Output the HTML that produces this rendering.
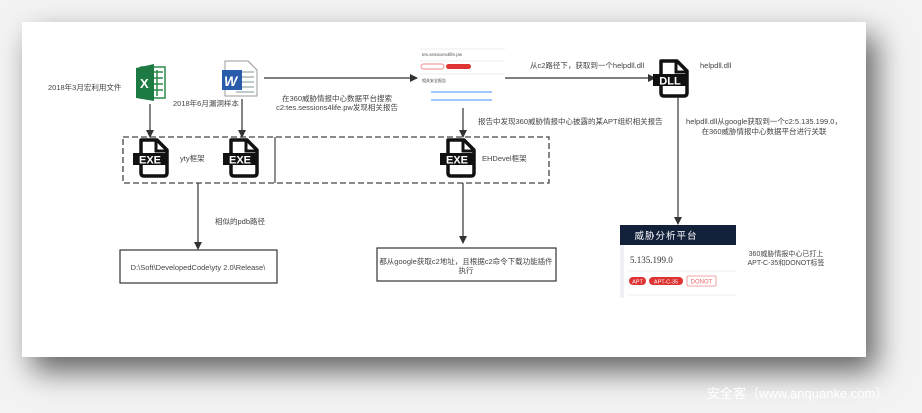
<!DOCTYPE html>
<html><head><meta charset="utf-8"><style>
html,body{margin:0;padding:0;width:922px;height:413px;overflow:hidden;background:#f3f3f3;}
.cv{position:absolute;left:22px;top:22px;width:844px;height:335px;background:#fff;box-shadow:10px 14px 28px rgba(0,0,0,.6);}
svg{position:absolute;left:0;top:0;}
text{font-family:"Liberation Sans","Noto Sans CJK SC",sans-serif;fill:#444;font-size:7.5px;}
</style></head><body>
<div class="cv"></div>
<svg width="922" height="413" viewBox="0 0 922 413">
<defs>
<marker id="a" markerWidth="8" markerHeight="8" refX="7" refY="4" orient="auto" markerUnits="userSpaceOnUse"><path d="M0,0 L8,4 L0,8z" fill="#333"/></marker>
<g id="exe">
<path d="M4,0 H20 L30,10 V33 Q30,36 27,36 H7 Q4,36 4,33 Z" fill="none" stroke="#111" stroke-width="3.5" stroke-linejoin="round"/>
<path d="M19,0 V11 H30" fill="none" stroke="#111" stroke-width="3"/>
<rect x="-4" y="13" width="34" height="12" fill="#111"/>
</g>
</defs>
<rect x="141" y="67" width="24" height="31" fill="#fff" stroke="#2b8a4c" stroke-width="1.5"/>
<path d="M152,72 H163 M152,78 H163 M152,84 H163 M152,90 H163 M157,70 V96" stroke="#2b8a4c" stroke-width="1.5"/>
<path d="M136,68 L154,64 V101 L136,98 Z" fill="#1e7a43"/>
<text x="140" y="88" style="fill:#fff;font-size:13px;font-weight:bold">X</text>
<path d="M225,61 H248 L257,70 V96 H225 Z" fill="#fff" stroke="#999" stroke-width="1"/>
<path d="M236,72 H254 M236,77 H254 M236,82 H254 M236,87 H254 M236,92 H254" stroke="#9aa" stroke-width="1.2"/>
<rect x="222" y="70" width="20" height="20" fill="#2a5cab"/>
<text x="224" y="86" style="fill:#fff;font-size:14px;font-weight:bold;font-style:italic">W</text>
<text x="48" y="90">2018年3月宏利用文件</text>
<text x="173" y="106">2018年6月漏洞样本</text>
<line x1="264" y1="78" x2="417" y2="78" stroke="#333" stroke-width="1.2" marker-end="url(#a)"/>
<text x="337" y="101" text-anchor="middle">在360威胁情报中心数据平台搜索</text>
<text x="337" y="110" text-anchor="middle">c2:tes.sessions4life.pw发现相关报告</text>
<rect x="420" y="48" width="85" height="58" fill="#fff"/>
<line x1="420" y1="49" x2="505" y2="49" stroke="#eee"/>
<text x="422" y="56" style="font-size:4.5px;fill:#555">tes.sessions4life.pw</text>
<line x1="420" y1="61" x2="505" y2="61" stroke="#eee"/>
<rect x="421" y="64" width="23" height="5" rx="2.5" fill="#fff" stroke="#e88"/>
<rect x="446" y="64" width="25" height="5" rx="2.5" fill="#d33"/>
<line x1="420" y1="74" x2="505" y2="74" stroke="#eee"/>
<text x="422" y="82" style="font-size:4px">相关安全报告</text>
<line x1="431" y1="92" x2="492" y2="92" stroke="#6af" stroke-width="1.3"/>
<line x1="431" y1="100" x2="492" y2="100" stroke="#6af" stroke-width="1.3"/>
<line x1="463" y1="108" x2="463" y2="137" stroke="#333" stroke-width="1.2" marker-end="url(#a)"/>
<line x1="505" y1="78" x2="655" y2="78" stroke="#333" stroke-width="1.2" marker-end="url(#a)"/>
<text x="530" y="68">从c2路径下，获取到一个helpdll.dll</text>
<g transform="translate(657,61)">
<path d="M4,0 H20 L30,10 V32 Q30,35 27,35 H7 Q4,35 4,32 Z" fill="none" stroke="#111" stroke-width="3.5" stroke-linejoin="round"/>
<path d="M19,0 V11 H30" fill="none" stroke="#111" stroke-width="3"/>
<rect x="-4" y="13" width="34" height="12" fill="#111"/>
<text x="13" y="23.5" text-anchor="middle" style="fill:#fff;font-size:11px;font-weight:bold">DLL</text>
</g>
<text x="700" y="68">helpdll.dll</text>
<line x1="678" y1="97" x2="678" y2="224" stroke="#333" stroke-width="1.2" marker-end="url(#a)"/>
<text x="764" y="124" text-anchor="middle">helpdll.dll从google获取到一个c2:5.135.199.0，</text>
<text x="764" y="134" text-anchor="middle">在360威胁情报中心数据平台进行关联</text>
<text x="478" y="124">报告中发现360威胁情报中心披露的某APT组织相关报告</text>
<rect x="123" y="137" width="426" height="46" fill="none" stroke="#444" stroke-width="1.3" stroke-dasharray="6,3"/>
<line x1="275" y1="137" x2="275" y2="183" stroke="#444" stroke-width="1.2"/>
<line x1="150" y1="104" x2="150" y2="137" stroke="#333" stroke-width="1.2" marker-end="url(#a)"/>
<line x1="242" y1="99" x2="242" y2="137" stroke="#333" stroke-width="1.2" marker-end="url(#a)"/>
<g transform="translate(137,140)"><use href="#exe"/><text x="13" y="23.5" text-anchor="middle" style="fill:#fff;font-size:11px;font-weight:bold">EXE</text></g>
<g transform="translate(227,140)"><use href="#exe"/><text x="13" y="23.5" text-anchor="middle" style="fill:#fff;font-size:11px;font-weight:bold">EXE</text></g>
<g transform="translate(444,140)"><use href="#exe"/><text x="13" y="23.5" text-anchor="middle" style="fill:#fff;font-size:11px;font-weight:bold">EXE</text></g>
<text x="180" y="161">yty框架</text>
<text x="482" y="161">EHDevel框架</text>
<line x1="198" y1="183" x2="198" y2="249" stroke="#333" stroke-width="1.2" marker-end="url(#a)"/>
<text x="215" y="224">相似的pdb路径</text>
<rect x="120" y="250" width="157" height="33" fill="#fff" stroke="#333" stroke-width="1.2"/>
<text x="198" y="270" text-anchor="middle">D:\Soft\DevelopedCode\yty 2.0\Release\</text>
<line x1="463" y1="183" x2="463" y2="243" stroke="#333" stroke-width="1.2" marker-end="url(#a)"/>
<rect x="377" y="248" width="179" height="33" fill="#fff" stroke="#333" stroke-width="1.2"/>
<text x="466" y="264" text-anchor="middle">都从google获取c2地址，且根据c2命令下载功能插件</text>
<text x="466" y="273" text-anchor="middle">执行</text>
<rect x="620" y="225" width="116" height="20" fill="#13203a"/>
<text x="666" y="239" text-anchor="middle" style="fill:#fff;font-size:9.5px;letter-spacing:1px">威胁分析平台</text>
<rect x="620" y="245" width="4" height="53" fill="#eef0f5"/>
<text x="630" y="263" style="font-size:9px;fill:#333;font-family:'Liberation Serif',serif">5.135.199.0</text>
<line x1="628" y1="271" x2="736" y2="271" stroke="#eee"/>
<rect x="629" y="277" width="17" height="8" rx="4" fill="#d33"/>
<text x="637.5" y="283.5" text-anchor="middle" style="fill:#fff;font-size:5.5px">APT</text>
<rect x="649" y="277" width="34" height="8" rx="4" fill="#d33"/>
<text x="666" y="283.5" text-anchor="middle" style="fill:#fff;font-size:5.5px">APT-C-35</text>
<rect x="687" y="276" width="29" height="10" rx="1" fill="#fff" stroke="#e88" stroke-width=".8"/>
<text x="701.5" y="283.5" text-anchor="middle" style="fill:#e66;font-size:6px">DONOT</text>
<line x1="628" y1="295" x2="736" y2="295" stroke="#eee"/>
<text x="786" y="256" text-anchor="middle" style="font-size:7px">360威胁情报中心已打上</text>
<text x="786" y="265" text-anchor="middle" style="font-size:7px">APT-C-35和DONOT标签</text>
<text x="707" y="398" style="fill:#fff;font-size:13px">安全客（www.anquanke.com）</text>
</svg>
</body></html>
